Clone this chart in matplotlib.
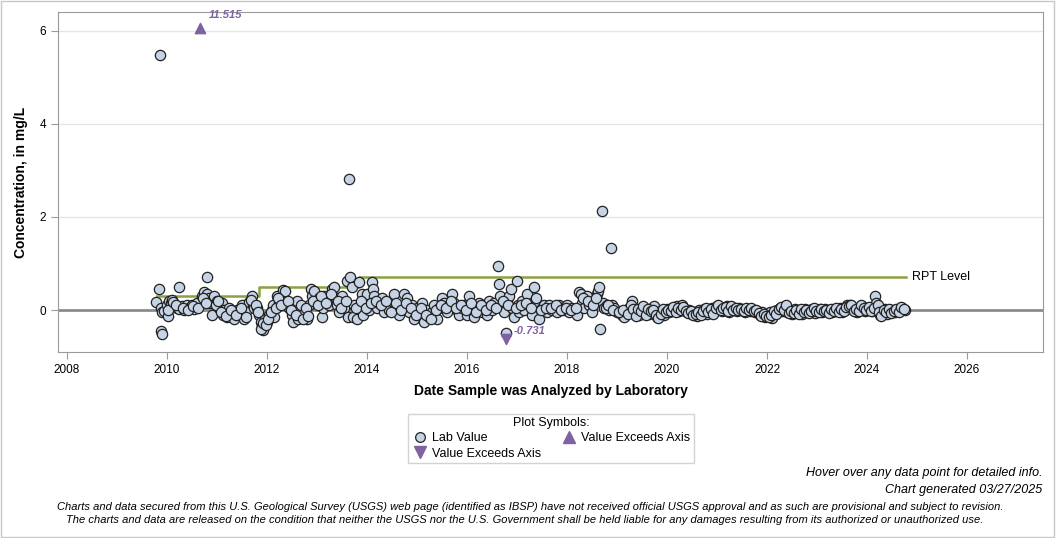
import matplotlib.pyplot as plt
from matplotlib.lines import Line2D
from matplotlib.patches import Rectangle

plt.rcParams["font.family"] = ["Liberation Sans", "DejaVu Sans"]

# lab values (decimal year, mg/L)
lab_years = [
    2009.78, 2009.84, 2009.86, 2009.88, 2009.90, 2009.88, 2009.91, 2009.95, 2010.00, 2010.02,
    2010.05, 2010.08, 2010.10, 2010.12, 2010.15, 2010.20, 2010.25, 2010.24, 2010.30, 2010.35,
    2010.40, 2010.45, 2010.50, 2010.55, 2010.60, 2010.70, 2010.75, 2010.80, 2010.81, 2010.85,
    2010.87, 2010.90, 2010.92, 2010.95, 2011.00, 2011.05, 2011.10, 2011.12, 2011.15, 2011.20,
    2011.25, 2011.30, 2011.35, 2011.40, 2011.45, 2011.50, 2011.55, 2011.60, 2011.65, 2011.70,
    2011.72, 2011.75, 2011.80, 2011.85, 2011.88, 2011.90, 2011.92, 2011.95, 2011.97, 2012.00,
    2012.05, 2012.10, 2012.12, 2012.15, 2012.20, 2012.25, 2012.30, 2012.32, 2012.37, 2012.40,
    2012.45, 2012.50, 2012.52, 2012.55, 2012.60, 2012.62, 2012.65, 2012.70, 2012.75, 2012.80,
    2012.85, 2012.88, 2012.90, 2012.95, 2013.00, 2013.05, 2013.10, 2013.12, 2013.15, 2013.20,
    2013.25, 2013.30, 2013.35, 2013.38, 2013.40, 2013.45, 2013.50, 2013.55, 2013.60, 2013.62,
    2013.64, 2013.67, 2013.70, 2013.72, 2013.75, 2013.80, 2013.85, 2013.90, 2013.92, 2013.95,
    2014.00, 2014.05, 2014.10, 2014.12, 2014.15, 2014.20, 2014.25, 2014.30, 2014.35, 2014.40,
    2014.45, 2014.50, 2014.55, 2014.60, 2014.65, 2014.70, 2014.75, 2014.80, 2014.85, 2014.90,
    2014.95, 2015.00, 2015.05, 2015.10, 2015.15, 2015.20, 2015.25, 2015.30, 2015.35, 2015.40,
    2015.45, 2015.50, 2015.55, 2015.60, 2015.65, 2015.70, 2015.75, 2015.80, 2015.85, 2015.90,
    2015.95, 2016.00, 2016.05, 2016.10, 2016.15, 2016.20, 2016.25, 2016.30, 2016.35, 2016.40,
    2016.45, 2016.50, 2016.55, 2016.62, 2016.64, 2016.67, 2016.70, 2016.75, 2016.78, 2016.80,
    2016.85, 2016.88, 2016.90, 2016.95, 2017.00, 2017.02, 2017.05, 2017.10, 2017.15, 2017.20,
    2017.25, 2017.30, 2017.35, 2017.40, 2017.45, 2017.50, 2017.55, 2017.60, 2017.65, 2017.70,
    2017.75, 2017.80, 2017.85, 2017.90, 2017.95, 2018.00, 2018.05, 2018.10, 2018.15, 2018.20,
    2018.25, 2018.28, 2018.30, 2018.35, 2018.40, 2018.45, 2018.50, 2018.55, 2018.60, 2018.62,
    2018.65, 2018.67, 2018.70, 2018.72, 2018.75, 2018.80, 2018.85, 2018.88, 2018.90, 2018.95,
    2019.00, 2019.10, 2019.15, 2019.20, 2019.25, 2019.30, 2019.35, 2019.40, 2019.45, 2019.50,
    2019.55, 2019.60, 2019.65, 2019.70, 2019.75, 2019.80, 2019.85, 2019.90, 2019.95, 2020.00,
    2020.05, 2020.10, 2020.15, 2020.20, 2020.25, 2020.30, 2020.35, 2020.40, 2020.45, 2020.50,
    2020.55, 2020.60, 2020.65, 2020.70, 2020.75, 2020.80, 2020.85, 2020.90, 2020.95, 2021.00,
    2021.05, 2021.10, 2021.15, 2021.20, 2021.25, 2021.30, 2021.35, 2021.40, 2021.45, 2021.50,
    2021.55, 2021.60, 2021.65, 2021.70, 2021.75, 2021.80, 2021.85, 2021.90, 2021.95, 2022.00,
    2022.05, 2022.10, 2022.15, 2022.20, 2022.25, 2022.30, 2022.35, 2022.40, 2022.45, 2022.50,
    2022.55, 2022.60, 2022.65, 2022.70, 2022.75, 2022.80, 2022.85, 2022.90, 2022.95, 2023.00,
    2023.05, 2023.10, 2023.15, 2023.20, 2023.25, 2023.30, 2023.35, 2023.40, 2023.45, 2023.50,
    2023.55, 2023.60, 2023.65, 2023.70, 2023.75, 2023.80, 2023.85, 2023.90, 2023.95, 2024.00,
    2024.05, 2024.10, 2024.15, 2024.18, 2024.20, 2024.25, 2024.30, 2024.35, 2024.40, 2024.45,
    2024.50, 2024.55, 2024.60, 2024.65, 2024.70, 2024.75,
]
lab_values = [
    0.17, 0.45, 5.48, 0.05, -0.05, -0.45, -0.52, -0.02, 0.12, -0.12,
    0.20, 0.15, 0.22, 0.08, 0.10, 0.05, 0.02, 0.49, 0.08, 0.00,
    0.10, 0.05, 0.12, 0.02, 0.15, 0.30, 0.38, 0.35, 0.71, 0.25,
    0.15, -0.10, 0.20, 0.30, 0.20, 0.05, 0.15, -0.10, 0.00, -0.15,
    0.05, -0.05, -0.20, 0.00, -0.10, 0.10, -0.20, 0.00, 0.18, 0.30,
    0.10, 0.05, 0.05, -0.10, -0.25, -0.35, -0.42, -0.30, -0.20, -0.25,
    -0.10, 0.00, 0.10, -0.15, 0.30, 0.15, 0.20, 0.43, 0.40, 0.10,
    0.05, -0.10, -0.25, 0.15, 0.20, -0.20, 0.00, -0.15, -0.05, -0.20,
    0.10, 0.45, 0.30, 0.40, 0.15, 0.25, -0.15, 0.05, 0.30, 0.20,
    0.10, 0.45, 0.50, 0.25, 0.10, -0.05, 0.30, 0.05, 0.62, -0.15,
    2.82, 0.70, 0.50, -0.15, 0.10, -0.20, 0.60, 0.35, -0.10, 0.15,
    0.35, 0.00, 0.60, 0.45, 0.30, 0.05, 0.15, 0.25, -0.05, 0.10,
    0.00, 0.20, 0.35, 0.10, -0.10, 0.05, 0.35, 0.25, -0.05, 0.10,
    -0.20, 0.05, -0.10, 0.15, -0.25, 0.00, -0.15, -0.05, 0.10, -0.20,
    0.05, 0.25, 0.15, -0.05, 0.10, 0.35, 0.15, 0.00, -0.10, 0.05,
    0.10, -0.10, 0.30, 0.00, -0.15, 0.05, 0.15, -0.05, 0.10, -0.10,
    0.20, 0.00, 0.15, 0.95, 0.55, 0.30, 0.10, -0.05, -0.50, 0.20,
    0.30, 0.45, 0.05, -0.15, 0.62, 0.10, -0.05, 0.20, 0.00, 0.35,
    0.10, -0.10, 0.50, 0.15, -0.20, 0.05, 0.10, -0.05, 0.10, 0.00,
    0.05, -0.05, 0.10, 0.05, 0.00, 0.10, -0.05, 0.05, 0.00, -0.10,
    0.38, 0.35, 0.15, 0.05, 0.30, 0.10, -0.05, 0.20, 0.35, 0.40,
    0.50, -0.40, 2.13, 0.15, 0.05, 0.10, 0.00, 1.33, 0.10, 0.05,
    -0.05, -0.10, -0.15, 0.00, 0.05, 0.20, -0.05, 0.00, -0.10, 0.05,
    -0.05, 0.00, -0.08, 0.05, 0.08, -0.15, -0.05, 0.00, -0.10, 0.02,
    -0.05, 0.05, 0.00, 0.08, -0.03, 0.10, 0.02, -0.05, 0.00, -0.08,
    -0.05, -0.12, 0.00, -0.05, 0.02, -0.08, 0.00, 0.05, -0.05, 0.08,
    0.05, -0.02, 0.00, 0.08, -0.05, 0.05, 0.02, -0.03, 0.05, 0.00,
    -0.05, 0.03, -0.02, 0.00, -0.05, -0.03, -0.10, -0.05, -0.15, -0.10,
    -0.05, -0.18, -0.05, 0.00, 0.05, -0.03, 0.08, -0.05, 0.00, -0.08,
    0.02, -0.05, 0.00, -0.08, 0.03, -0.05, 0.00, 0.02, -0.06, 0.00,
    0.02, -0.05, 0.03, -0.03, 0.00, -0.05, 0.02, -0.02, 0.05, -0.05,
    0.00, 0.10, 0.12, 0.05, 0.00, -0.05, 0.05, 0.08, -0.02, 0.05,
    0.00, -0.03, 0.30, 0.15, 0.00, -0.10, -0.05, 0.02, -0.08, -0.03,
    0.00, -0.05, -0.02, 0.03, 0.05, 0.00,
]

# more lab values in between (dense sampling periods)
extra_years = [
    2010.03, 2010.13, 2010.18, 2010.33, 2010.43, 2010.53, 2010.63, 2010.73, 2010.78, 2010.98,
    2011.03, 2011.08, 2011.18, 2011.28, 2011.38, 2011.48, 2011.58, 2011.68, 2011.78, 2011.83,
    2011.89, 2011.93, 2011.99, 2012.03, 2012.08, 2012.18, 2012.23, 2012.28, 2012.43, 2012.48,
    2012.58, 2012.68, 2012.73, 2012.78, 2012.83, 2012.93, 2013.03, 2013.08, 2013.18, 2013.28,
    2013.43, 2013.48, 2013.58, 2013.78, 2013.88, 2013.98, 2014.08, 2014.18, 2014.28, 2014.38,
    2014.48, 2014.58, 2014.68, 2014.78, 2014.88, 2014.98, 2015.08, 2015.18, 2015.28, 2015.38,
    2015.48, 2015.58, 2015.68, 2015.78, 2015.88, 2015.98, 2016.08, 2016.18, 2016.28, 2016.38,
    2016.48, 2016.58, 2016.72, 2016.83, 2016.98, 2017.08, 2017.18, 2017.28, 2017.38, 2017.48,
    2017.58, 2017.68, 2017.78, 2017.88, 2017.98, 2018.08, 2018.18, 2018.33, 2018.43, 2018.53,
    2018.58, 2018.78, 2018.83, 2018.93, 2019.05, 2019.12, 2019.22, 2019.28,
    2019.33, 2019.38, 2019.43, 2019.48, 2019.53, 2019.58, 2019.63, 2019.68, 2019.73, 2019.78,
    2019.83, 2019.88, 2019.93, 2019.98, 2020.03, 2020.08, 2020.13, 2020.18, 2020.23, 2020.28,
    2020.33, 2020.38, 2020.43, 2020.48, 2020.53, 2020.58, 2020.63, 2020.68, 2020.73, 2020.78,
    2020.83, 2020.88, 2020.93, 2020.98, 2021.03, 2021.08, 2021.13, 2021.18, 2021.23, 2021.28,
    2021.33, 2021.38, 2021.43, 2021.48, 2021.53, 2021.58, 2021.63, 2021.68, 2021.73, 2021.78,
    2021.83, 2021.88, 2021.93, 2021.98, 2022.03, 2022.08, 2022.13, 2022.18, 2022.23, 2022.28,
    2022.33, 2022.38, 2022.43, 2022.48, 2022.53, 2022.58, 2022.63, 2022.68, 2022.73, 2022.78,
    2022.83, 2022.88, 2022.93, 2022.98, 2023.03, 2023.08, 2023.13, 2023.18, 2023.23, 2023.28,
    2023.33, 2023.38, 2023.43, 2023.48, 2023.53, 2023.58, 2023.63, 2023.68, 2023.73, 2023.78,
    2023.83, 2023.88, 2023.93, 2023.98, 2024.03, 2024.08, 2024.13, 2024.22, 2024.23, 2024.28,
    2024.33, 2024.38, 2024.43, 2024.48, 2024.53, 2024.58, 2024.63, 2024.68, 2024.73,
]
extra_values = [
    0.00, 0.18, 0.10, 0.05, 0.00, 0.08, 0.05, 0.25, 0.15, 0.10,
    0.20, -0.05, -0.12, 0.00, -0.10, 0.05, -0.15, 0.22, 0.12, -0.05,
    -0.40, -0.28, -0.32, -0.20, -0.05, 0.05, 0.25, 0.10, 0.20, 0.00,
    -0.10, 0.10, -0.20, 0.05, -0.12, 0.20, 0.10, 0.30, 0.15, 0.35,
    0.20, 0.05, 0.20, 0.05, 0.20, 0.05, 0.15, 0.20, 0.10, 0.20,
    -0.05, 0.15, 0.00, 0.15, 0.05, -0.10, 0.05, -0.10, -0.20, 0.00,
    0.10, 0.05, 0.20, 0.05, 0.10, 0.00, 0.15, -0.05, 0.10, 0.00,
    0.10, 0.05, 0.20, 0.10, 0.05, 0.10, 0.15, 0.05, 0.25, 0.00,
    0.05, 0.05, 0.10, 0.00, 0.05, 0.00, 0.05, 0.25, 0.20, 0.10,
    0.25, 0.05, 0.10, 0.00, -0.05, 0.00, -0.08, 0.10,
    0.02, -0.12, 0.03, -0.03, 0.08, -0.10, 0.02, -0.03, 0.00, -0.10,
    -0.18, -0.08, 0.03, -0.05, 0.00, -0.02, 0.07, -0.05, 0.05, 0.00,
    0.06, -0.02, -0.07, -0.02, -0.10, -0.08, -0.04, -0.10, -0.02, 0.04,
    -0.05, 0.03, -0.08, 0.05, 0.10, 0.00, 0.05, 0.06, -0.02, 0.08,
    0.00, 0.05, 0.00, 0.03, -0.02, 0.05, 0.00, 0.04, -0.03, 0.00,
    -0.06, -0.12, -0.08, -0.12, -0.15, -0.10, -0.02, -0.08, 0.03, 0.06,
    0.00, 0.10, -0.06, -0.03, -0.06, 0.00, -0.08, 0.02, -0.04, 0.00,
    -0.06, -0.02, 0.04, -0.03, -0.05, 0.03, -0.02, 0.00, -0.06, 0.03,
    -0.03, 0.04, -0.04, 0.02, -0.02, 0.06, 0.08, 0.10, -0.03, 0.02,
    -0.02, 0.10, 0.04, 0.00, 0.07, -0.02, 0.05, 0.10, -0.05, -0.12,
    0.00, -0.05, 0.02, -0.06, -0.03, 0.02, -0.04, 0.06, 0.03,
]

# values above / below the plotted range
high_years = [2010.66]
high_values = [11.515]
low_years = [2016.78]
low_values = [-0.731]

# reporting level steps
rpt_years = [2009.80, 2011.85, 2013.84, 2024.77]
rpt_values = [0.3, 0.5, 0.7, 0.7]

y_min, y_max = -0.9, 6.4
purple = "#7f62a1"
face = "#c6d3e5"

fig = plt.figure(figsize=(10.56, 5.38), dpi=100)
ax = fig.add_axes([0.0549, 0.3457, 0.9328, 0.632])

ax.set_xlim(2007.82, 2027.52)
ax.set_ylim(y_min, y_max)

for yv in [2, 4, 6]:
    ax.axhline(yv, color="#e6e6e6", lw=1, zorder=0)
ax.axhline(0, color="#8c8c8c", lw=2, zorder=1)

ax.step(rpt_years, rpt_values, where="post", color="#8aa242", lw=1.8, zorder=2)
ax.text(rpt_years[-1] + 0.12, rpt_values[-1], "RPT Level", fontsize=9,
        va="center", ha="left")

ax.scatter(lab_years + extra_years, lab_values + extra_values, s=55,
           facecolor=face, edgecolor="#222222", linewidth=0.9, zorder=3)

for yr, val in zip(high_years, high_values):
    ax.scatter([yr], [6.05], marker="^", s=55, color=purple, zorder=4)
    ax.text(yr + 0.18, 6.22, f"{val:.3f}", color=purple, fontsize=8,
            fontweight="bold", fontstyle="italic", ha="left", va="bottom")
for yr, val in zip(low_years, low_values):
    ax.scatter([yr], [-0.63], marker="v", s=55, color=purple, zorder=4)
    ax.text(yr + 0.15, -0.45, f"{val:.3f}", color=purple, fontsize=8,
            fontweight="bold", fontstyle="italic", ha="left", va="center")

ax.set_xticks(range(2008, 2027, 2))
ax.set_yticks([0, 2, 4, 6])
ax.tick_params(labelsize=8.5, color="#9a9a9a", length=5)
for sp in ax.spines.values():
    sp.set_color("#9a9a9a")

ax.set_xlabel("Date Sample was Analyzed by Laboratory", fontsize=10,
              fontweight="bold", labelpad=6)
ax.set_ylabel("Concentration, in mg/L", fontsize=10, fontweight="bold",
              labelpad=8)

handles = [
    Line2D([], [], marker="o", ls="", markersize=7, markerfacecolor=face,
           markeredgecolor="#222222", markeredgewidth=0.9),
    Line2D([], [], marker="v", ls="", markersize=8, color=purple),
    Line2D([], [], marker="^", ls="", markersize=8, color=purple),
]
labels = ["Lab Value", "Value Exceeds Axis", "Value Exceeds Axis"]
leg = fig.legend(handles, labels, ncol=2, title="Plot Symbols:",
                 loc="upper center", bbox_to_anchor=(0.522, 0.243),
                 fontsize=9, title_fontsize=9, frameon=True, fancybox=False,
                 edgecolor="#c8c8c8", borderpad=0.3, handletextpad=0.4,
                 columnspacing=1.6, labelspacing=0.25, handlelength=1.2)
leg.get_frame().set_linewidth(1)

narrow = ["Liberation Sans Narrow", "Liberation Sans", "DejaVu Sans"]
fig.text(0.987, 0.121, "Hover over any data point for detailed info.",
         ha="right", va="center", fontsize=9, fontstyle="italic", family=narrow)
fig.text(0.987, 0.090, "Chart generated 03/27/2025", ha="right", va="center",
         fontsize=9, fontstyle="italic", family=narrow)
fig.text(0.502, 0.057,
         "Charts and data secured from this U.S. Geological Survey (USGS) web page "
         "(identified as IBSP) have not received official USGS approval and as such "
         "are provisional and subject to revision.",
         ha="center", va="center", fontsize=8, fontstyle="italic", family=narrow)
fig.text(0.497, 0.033,
         "The charts and data are released on the condition that neither the USGS "
         "nor the U.S. Government shall be held liable for any damages resulting "
         "from its authorized or unauthorized use.",
         ha="center", va="center", fontsize=8, fontstyle="italic", family=narrow)

fig.patches.append(Rectangle((0.0005, 0.001), 0.998, 0.997,
                             transform=fig.transFigure, fill=False,
                             edgecolor="#c8c8c8", lw=1))

fig.savefig("out.png", dpi=100)
